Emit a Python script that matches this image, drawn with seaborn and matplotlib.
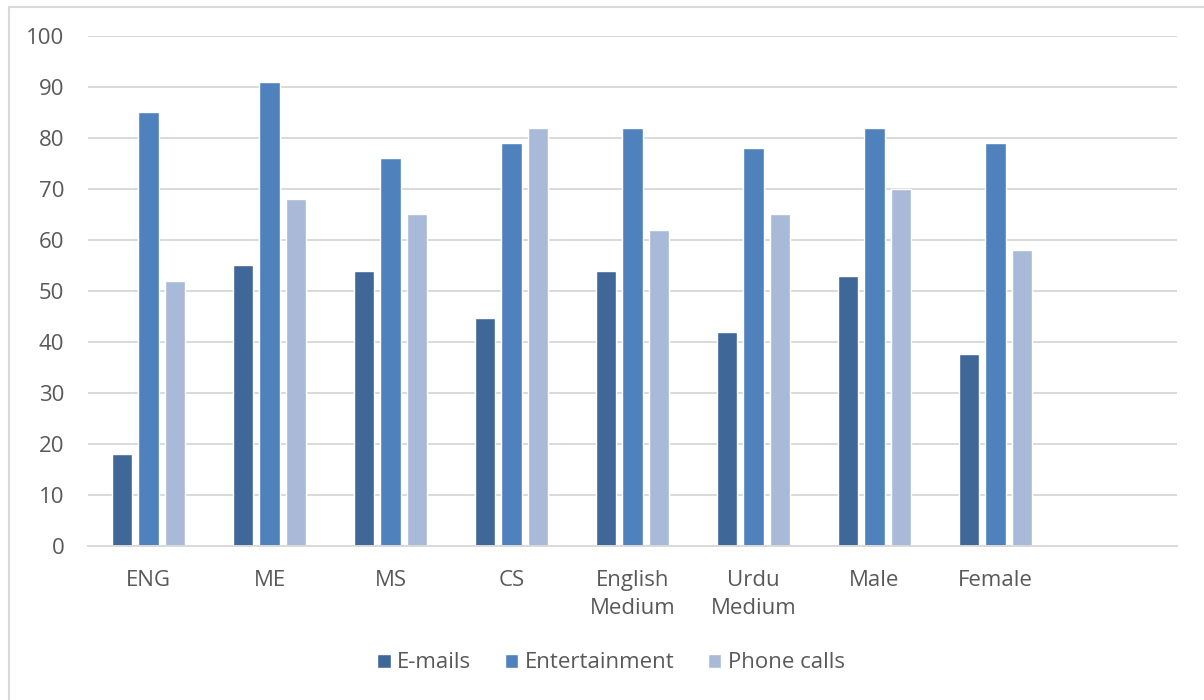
import pandas as pd
import matplotlib
matplotlib.use("Agg")
import matplotlib.pyplot as plt
import seaborn as sns

# === Data ===
groups = ["ENG", "ME", "MS", "CS", "English\nMedium", "Urdu\nMedium", "Male", "Female", " "]
emails = [18, 55, 54, 44.7, 54, 42, 53, 37.6, None]
entertainment = [85, 91, 76, 79, 82, 78, 82, 79, None]
phone_calls = [52, 68, 65, 82, 62, 65, 70, 58, None]

series_names = ["E-mails", "Entertainment", "Phone calls"]
colors = ["#3F6798", "#4F81BD", "#A9B9D8"]

df = pd.DataFrame({
    "group": groups,
    "E-mails": emails,
    "Entertainment": entertainment,
    "Phone calls": phone_calls,
}).melt(id_vars="group", var_name="series", value_name="value")

sns.set_style("white")
plt.rcParams["font.family"] = ["Open Sans", "DejaVu Sans"]

fig = plt.figure(figsize=(12.04, 7), dpi=100)
ax = fig.add_axes([88 / 1204, 1 - 546 / 700, (1177 - 88) / 1204, (546 - 36) / 700])

sns.barplot(data=df, x="group", y="value", hue="series", order=groups,
            hue_order=series_names, palette=colors, width=0.66, gap=0.24,
            saturation=1, errorbar=None, ax=ax, legend=True)

ax.set_ylim(0, 100)
ax.set_xlim(-0.5, len(groups) - 0.5)
ax.set_yticks(range(0, 101, 10))
ax.yaxis.grid(True, color="#D9D9D9", linewidth=1.4)
ax.set_axisbelow(True)
for s in ["top", "right", "left"]:
    ax.spines[s].set_visible(False)
ax.spines["bottom"].set_color("#D9D9D9")
ax.spines["bottom"].set_linewidth(1.4)
ax.tick_params(axis="both", length=0, labelsize=16, labelcolor="#595959")
ax.tick_params(axis="y", pad=17)
ax.tick_params(axis="x", pad=17)
for lbl in ax.get_xticklabels():
    lbl.set_linespacing(1.45)
ax.set_xlabel("")
ax.set_ylabel("")

handles, labels = ax.get_legend_handles_labels()
ax.legend_.remove()
fig.legend(handles, labels, loc="center", bbox_to_anchor=(611 / 1204, 1 - 663 / 700),
           ncol=3, frameon=False, fontsize=16, labelcolor="#595959",
           handlelength=0.6, handleheight=0.6, handletextpad=0.3, columnspacing=1.5)

# light frame around the chart area
fig.add_artist(plt.Line2D([9 / 1204, 9 / 1204], [0, 1 - 7 / 700], color="#D9D9D9",
                          linewidth=1.5, transform=fig.transFigure))
fig.add_artist(plt.Line2D([9 / 1204, 1], [1 - 7 / 700, 1 - 7 / 700], color="#D9D9D9",
                          linewidth=1.5, transform=fig.transFigure))

fig.savefig("out.png", dpi=100, facecolor="white")
